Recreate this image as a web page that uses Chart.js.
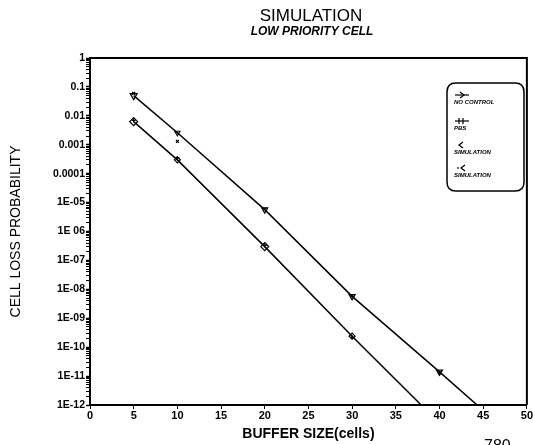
<!DOCTYPE html>
<html><head><meta charset="utf-8">
<script src="https://cdn.jsdelivr.net/npm/chart.js@4.4.1/dist/chart.umd.min.js"></script>
<style>html,body{margin:0;padding:0;background:#fff}#wrap{width:533px;height:445px;position:relative}</style>
</head><body><div id="wrap"><canvas id="c"></canvas></div>
<script>
const titleText = "SIMULATION";
const subtitleText = "LOW PRIORITY CELL";
const xTitle = "BUFFER SIZE(cells)";
const yTitle = "CELL LOSS PROBABILITY";
const pageNumber = "780";
const xTicks = [0,5,10,15,20,25,30,35,40,45,50];
const yTickValues = [1,0.1,0.01,0.001,0.0001,1e-5,1e-6,1e-7,1e-8,1e-9,1e-10,1e-11,1e-12];
const yTickLabels = ["1","0.1","0.01","0.001","0.0001","1E-05","1E 06","1E-07","1E-08","1E-09","1E-10","1E-11","1E-12"];
const yMinorSteps = [2,3,4,5,6,7,8,9];
const seriesLabels = ["NO CONTROL","PBS","SIMULATION","SIMULATION"];
// line series (buffer size, probability)
const noControlX = [5,10,20,30,40,44.3];
const noControlY = [0.05,0.0026,5.7e-6,5.7e-9,1.4e-11,1e-12];
const pbsX = [5,10,20,30,37.9];
const pbsY = [0.0063,0.0003,3e-7,2.4e-10,1e-12];
const sim1X = [5,10,20,30,40];
const sim1Y = [0.06,0.0013,6e-6,6e-9,1.3e-11];
const sim2X = [5,10,20,30];
const sim2Y = [0.007,0.00035,3.3e-7,2.2e-10];

const pts = (xs, ys) => xs.map((x,i)=>({x, y: ys[i]}));

const textPlugin = {
  id: 'texts',
  afterDraw(chart) {
    const ctx = chart.ctx, a = chart.chartArea;
    ctx.save();
    ctx.strokeStyle = '#000';
    ctx.lineWidth = 2;
    ctx.beginPath();
    ctx.moveTo(a.left, a.top); ctx.lineTo(a.right, a.top); ctx.lineTo(a.right, a.bottom);
    ctx.stroke();
    ctx.fillStyle = '#000';
    ctx.textAlign = 'center'; ctx.textBaseline = 'middle';
    ctx.font = '17px "Liberation Sans", Arial, sans-serif';
    ctx.fillText(titleText, 311, 16);
    ctx.font = 'italic bold 12px "Liberation Sans", Arial, sans-serif';
    ctx.fillText(subtitleText, 312, 32);
    ctx.font = '16px "Liberation Sans", Arial, sans-serif';
    ctx.textAlign = 'left'; ctx.textBaseline = 'alphabetic';
    ctx.fillText(pageNumber, 484, 451);
    const bx = 447, by = 83, bw = 77, bh = 108, r = 9;
    ctx.lineWidth = 1.5;
    ctx.beginPath();
    ctx.moveTo(bx+r, by); ctx.lineTo(bx+bw-r, by); ctx.quadraticCurveTo(bx+bw, by, bx+bw, by+r);
    ctx.lineTo(bx+bw, by+bh-r); ctx.quadraticCurveTo(bx+bw, by+bh, bx+bw-r, by+bh);
    ctx.lineTo(bx+r, by+bh); ctx.quadraticCurveTo(bx, by+bh, bx, by+bh-r);
    ctx.lineTo(bx, by+r); ctx.quadraticCurveTo(bx, by, bx+r, by);
    ctx.stroke();
    ctx.font = 'italic bold 6px "Liberation Sans", Arial, sans-serif';
    ctx.textAlign = 'left'; ctx.textBaseline = 'middle';
    const rows = [95, 121, 145, 168];
    chart.data.datasets.forEach((ds, i) => {
      const y = rows[i];
      ctx.lineWidth = 1.2;
      if (ds.showLine) {
        ctx.beginPath(); ctx.moveTo(455, y); ctx.lineTo(469, y); ctx.stroke();
      }
      ctx.beginPath();
      if (i === 0) { ctx.moveTo(460, y-3); ctx.lineTo(464, y); ctx.lineTo(460, y+3); }
      else if (i === 1) { ctx.moveTo(459, y-3); ctx.lineTo(459, y+3); ctx.moveTo(463, y-3); ctx.lineTo(463, y+3); }
      else if (i === 2) { ctx.moveTo(463, y-3); ctx.lineTo(459, y); ctx.lineTo(463, y+3); }
      else { ctx.moveTo(465, y-3); ctx.lineTo(461, y); ctx.lineTo(465, y+3); ctx.moveTo(458, y-1); ctx.lineTo(458, y+1); }
      ctx.stroke();
      ctx.fillText(ds.label, 454, y + 7);
    });
    ctx.restore();
  }
};

new Chart(document.getElementById('c'), {
  type: 'scatter',
  data: {
    datasets: [
      { label: seriesLabels[0], data: pts(noControlX, noControlY), showLine: true, borderColor: '#000', borderWidth: 1.5,
        pointStyle: 'triangle', rotation: 180, pointRadius: [4,3,3.5,3.5,3.5,0], pointBorderColor: '#000', pointBackgroundColor: 'rgba(0,0,0,0)', pointBorderWidth: 1.2 },
      { label: seriesLabels[1], data: pts(pbsX, pbsY), showLine: true, borderColor: '#000', borderWidth: 1.5,
        pointStyle: 'rectRot', pointRadius: [4,3,4,3,0], pointBorderColor: '#000', pointBackgroundColor: 'rgba(0,0,0,0)', pointBorderWidth: 1.2 },
      { label: seriesLabels[2], data: pts(sim1X, sim1Y), showLine: false,
        pointStyle: 'crossRot', pointRadius: 2, pointBorderColor: '#000', pointBorderWidth: 1.2 },
      { label: seriesLabels[3], data: pts(sim2X, sim2Y), showLine: false,
        pointStyle: 'cross', pointRadius: 2, pointBorderColor: '#000', pointBorderWidth: 1.2 }
    ]
  },
  options: {
    responsive: true, maintainAspectRatio: false, animation: false,
    layout: { padding: { top: 58, right: 5, left: 0, bottom: 0 } },
    plugins: { legend: { display: false }, title: { display: false }, tooltip: { enabled: false } },
    scales: {
      x: {
        type: 'linear', min: 0, max: 50,
        afterBuildTicks: s => { s.ticks = xTicks.map(v => ({ value: v })); },
        afterFit: s => { s.height = 40; },
        grid: { display: true, drawOnChartArea: false, drawTicks: true, tickLength: 4, color: '#000' },
        border: { display: true, color: '#000', width: 2 },
        ticks: { color: '#000', font: { family: '"Liberation Sans", Arial, sans-serif', size: 11, weight: 'bold' }, padding: 0, maxRotation: 0 },
        title: { display: true, text: xTitle, color: '#000', font: { family: '"Liberation Sans", Arial, sans-serif', size: 14, weight: 'bold' }, padding: { top: 0, bottom: 2 } }
      },
      y: {
        type: 'logarithmic', min: 1e-12, max: 1,
        afterBuildTicks: s => {
          const t = [];
          yTickValues.forEach(v => {
            t.push({ value: v, major: true });
            if (v > 1e-12) yMinorSteps.forEach(k => t.push({ value: v * k / 10, major: false }));
          });
          s.ticks = t;
        },
        afterFit: s => { s.width = 90; },
        grid: { display: true, drawOnChartArea: false, drawTicks: true, tickLength: 4, color: '#000',
          tickWidth: c => (c.tick && c.tick.major) ? 1.5 : 1 },
        border: { display: true, color: '#000', width: 2 },
        ticks: { color: '#000', font: { family: '"Liberation Sans", Arial, sans-serif', size: 10.5, weight: 'bold' }, padding: 1,
          autoSkip: false,
          callback: (v) => { const i = yTickValues.findIndex(t => Math.abs(Math.log10(t) - Math.log10(v)) < 1e-6); return i >= 0 ? yTickLabels[i] : ''; } },
        title: { display: true, text: yTitle, color: '#000', font: { family: '"Liberation Sans", Arial, sans-serif', size: 14 }, padding: { top: 8, bottom: 20 } }
      }
    }
  },
  plugins: [textPlugin]
});
</script></body></html>
